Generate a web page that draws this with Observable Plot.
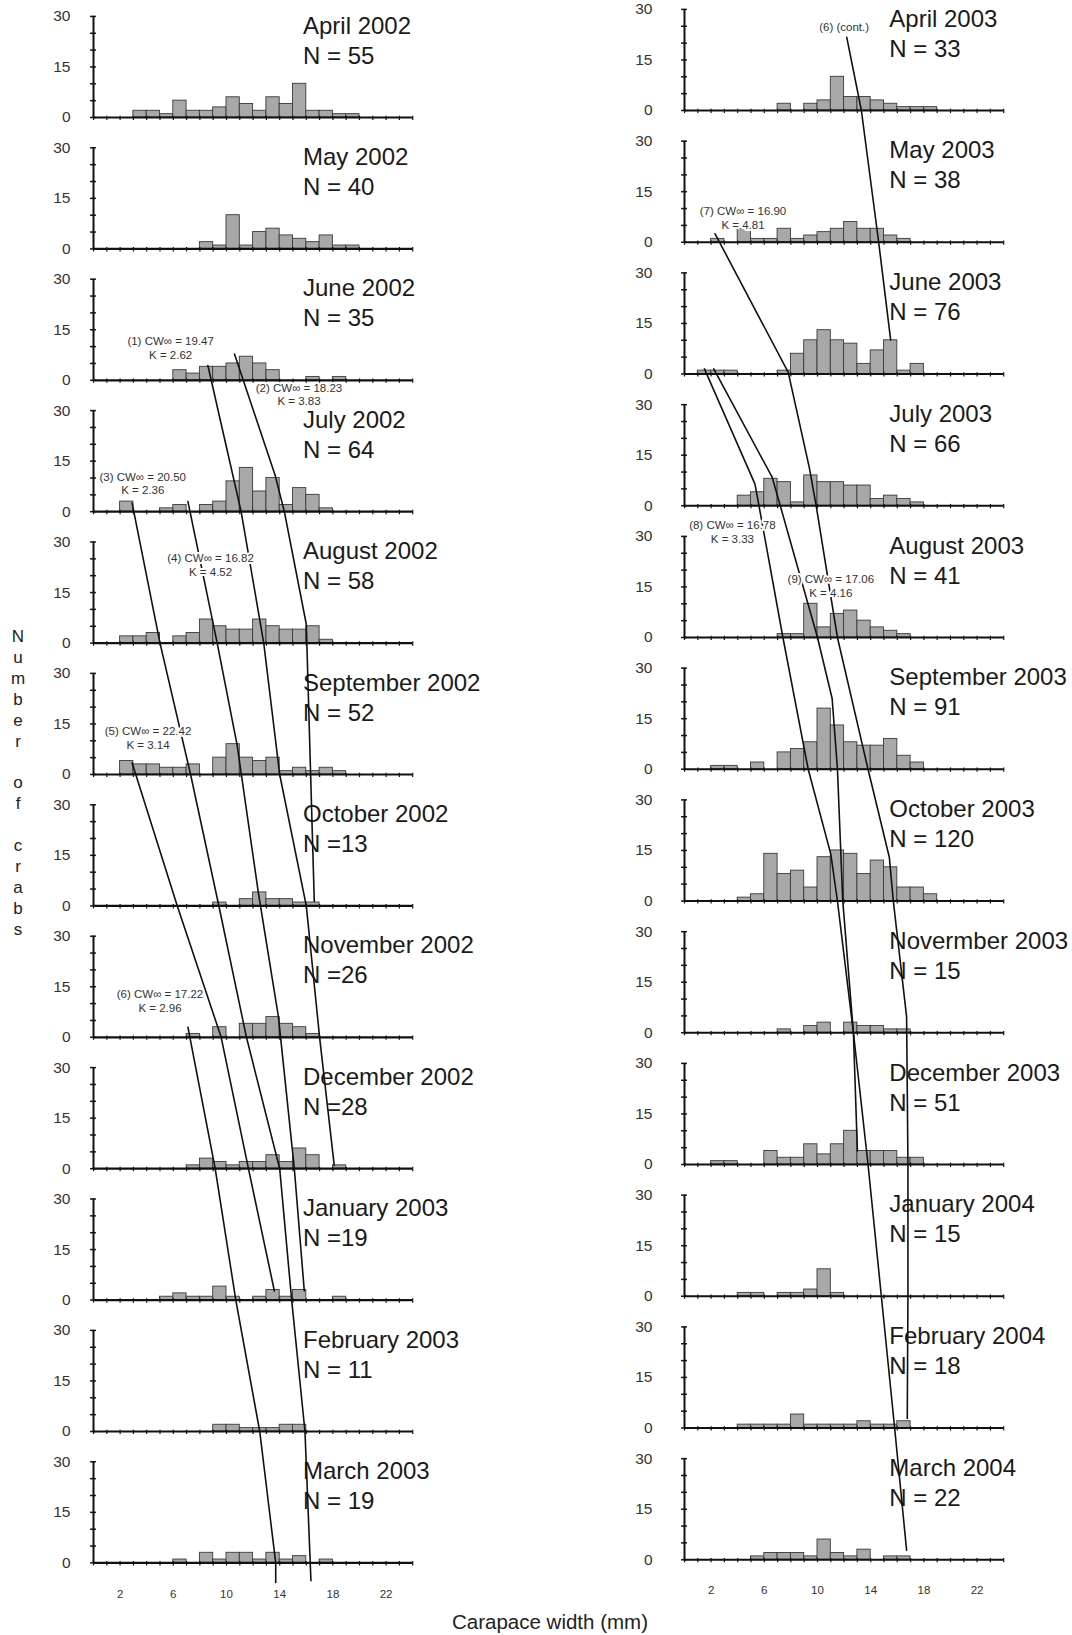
<!DOCTYPE html>
<html><head><meta charset="utf-8">
<script src="https://cdn.jsdelivr.net/npm/d3@7"></script>
<script src="https://cdn.jsdelivr.net/npm/@observablehq/plot@0.6"></script>
<style>
body{margin:0;background:#fff;}
#wrap{position:relative;width:1072px;height:1635px;font-family:"Liberation Sans",Arial,sans-serif;overflow:hidden;}
#wrap svg{position:absolute;left:0;top:0;}
#ylab{position:absolute;left:6px;top:627px;width:24px;text-align:center;font-size:17px;line-height:20.9px;white-space:pre;color:#222;}
#xlab{position:absolute;left:0;width:1100px;top:1611px;text-align:center;font-size:20.5px;line-height:22px;color:#222;}
</style></head><body>
<div id="wrap"><div id="ylab"></div><div id="xlab">Carapace width (mm)</div></div>
<script>
// ---------- tick values ----------
const binEdges = d3.range(0, 25);           // 1-mm bins, 0 … 24 mm
const xTickLabels = [2, 6, 10, 14, 18, 22];
const yTickLabels = [0, 15, 30];
const yMinorTicks = [0, 5, 10, 15, 20, 25, 30];

// ---------- panel titles ----------
const months1 = ["April 2002","May 2002","June 2002","July 2002","August 2002","September 2002",
  "October 2002","November 2002","December 2002","January 2003","February 2003","March 2003"];
const nLabels1 = ["N = 55","N = 40","N = 35","N = 64","N = 58","N = 52","N =13","N =26","N =28","N =19","N = 11","N = 19"];
const months2 = ["April 2003","May 2003","June 2003","July 2003","August 2003","September 2003",
  "October 2003","Novermber 2003","December 2003","January 2004","February 2004","March 2004"];
const nLabels2 = ["N = 33","N = 38","N = 76","N = 66","N = 41","N = 91","N = 120","N = 15","N = 51","N = 15","N = 18","N = 22"];

// ---------- counts per 1-mm carapace-width bin (0–1, 1–2, … 23–24 mm) ----------
const apr2002 = [0,0,0,2,2,1,5,2,2,3,6,4,2,6,4,10,2,2,1,1,0,0,0,0];
const may2002 = [0,0,0,0,0,0,0,0,2,1,10,1,5,6,4,3,2,4,1,1,0,0,0,0];
const jun2002 = [0,0,0,0,0,0,3,2,4,4,5,7,5,3,0,0,1,0,1,0,0,0,0,0];
const jul2002 = [0,0,3,0,0,1,2,0,2,3,9,13,6,10,2,7,5,1,0,0,0,0,0,0];
const aug2002 = [0,0,2,2,3,0,2,3,7,5,4,4,7,5,4,4,5,1,0,0,0,0,0,0];
const sep2002 = [0,0,4,3,3,2,2,3,0,5,9,5,4,5,1,2,1,2,1,0,0,0,0,0];
const oct2002 = [0,0,0,0,0,0,0,0,0,1,0,2,4,2,2,1,1,0,0,0,0,0,0,0];
const nov2002 = [0,0,0,0,0,0,0,1,0,3,0,4,4,6,4,3,1,0,0,0,0,0,0,0];
const dec2002 = [0,0,0,0,0,0,0,1,3,2,1,2,2,4,2,6,4,0,1,0,0,0,0,0];
const jan2003 = [0,0,0,0,0,1,2,1,1,4,1,0,1,3,1,3,0,0,1,0,0,0,0,0];
const feb2003 = [0,0,0,0,0,0,0,0,0,2,2,1,1,1,2,2,0,0,0,0,0,0,0,0];
const mar2003 = [0,0,0,0,0,0,1,0,3,1,3,3,1,3,1,2,0,1,0,0,0,0,0,0];
const apr2003 = [0,0,0,0,0,0,0,2,0,2,3,10,4,4,3,2,1,1,1,0,0,0,0,0];
const may2003 = [0,0,1,0,4,1,1,4,1,2,3,4,6,4,4,2,1,0,0,0,0,0,0,0];
const jun2003 = [0,1,1,1,0,0,0,1,6,10,13,10,9,3,7,10,1,3,0,0,0,0,0,0];
const jul2003 = [0,0,0,0,3,4,8,7,1,9,7,7,6,6,2,3,2,1,0,0,0,0,0,0];
const aug2003 = [0,0,0,0,0,0,0,1,1,10,3,7,8,5,3,2,1,0,0,0,0,0,0,0];
const sep2003 = [0,0,1,1,0,2,0,5,6,8,18,13,8,7,7,9,4,2,0,0,0,0,0,0];
const oct2003 = [0,0,0,0,1,2,14,8,9,4,13,15,14,8,12,10,4,4,2,0,0,0,0,0];
const nov2003 = [0,0,0,0,0,0,0,1,0,2,3,0,3,2,2,1,1,0,0,0,0,0,0,0];
const dec2003 = [0,0,1,1,0,0,4,2,2,6,3,6,10,4,4,4,2,2,0,0,0,0,0,0];
const jan2004 = [0,0,0,0,1,1,0,1,1,2,8,1,0,0,0,0,0,0,0,0,0,0,0,0];
const feb2004 = [0,0,0,0,1,1,1,1,4,1,1,1,1,2,1,1,2,0,0,0,0,0,0,0];
const mar2004 = [0,0,0,0,0,1,2,2,2,1,6,2,1,3,0,1,1,0,0,0,0,0,0,0];

// ---------- cohort growth paths: [month, carapace width (mm), count level] ----------
const cohort1 = [["June 2002",8.6,4.4],["July 2002",11.1,0],["August 2002",12.8,0],["September 2002",14.0,0],
  ["October 2002",16.0,0],["November 2002",17.0,0],["December 2002",18.1,1]];
const cohort2 = [["June 2002",10.6,7.8],["July 2002",13.65,10.9],["July 2002",14.35,0],["August 2002",16.0,5.6],["October 2002",16.6,1.3]];
const cohort3 = [["July 2002",2.9,2.6],["August 2002",5.0,0],["September 2002",7.3,0],["October 2002",9.4,0.5],
  ["November 2002",11.5,0],["December 2002",14.0,0],["January 2003",14.9,0],["February 2003",15.9,0],["March 2003",16.35,-5.3]];
const cohort4 = [["July 2002",7.1,3],["August 2002",9.3,0],["September 2002",10.8,8.7],["October 2002",12.4,3.8],
  ["November 2002",13.9,6.2],["December 2002",15.1,0],["January 2003",15.85,2.7]];
const cohort5 = [["September 2002",2.9,3.5],["October 2002",6.3,0],["November 2002",9.6,0],["December 2002",11.65,0],["January 2003",13.6,2.7]];
const cohort6 = [["November 2002",7.1,3],["December 2002",9.15,0],["January 2003",10.7,0],["February 2003",12.5,0],
  ["March 2003",13.7,0],["March 2003",13.7,-5.8]];
const cohort6b = [["April 2003",12.2,21.7],["April 2003",13.3,0],["May 2003",14.6,0],["June 2003",15.5,10.1]];
const cohort7 = [["May 2003",2.3,2.5],["June 2003",7.8,0.5],["July 2003",9.4,11],["July 2003",9.9,0],["August 2003",11.5,0],
  ["September 2003",13.8,0],["October 2003",15.4,13],["October 2003",15.7,0],["Novermber 2003",16.7,4.7],
  ["December 2003",16.8,0],["January 2004",16.8,0],["February 2004",16.75,2.8]];
const cohort8 = [["June 2003",1.5,1.5],["July 2003",5.3,6.4],["July 2003",5.6,0],["August 2003",7.4,0],["September 2003",9.3,0],
  ["October 2003",11.0,13.9],["October 2003",11.5,0],["Novermber 2003",12.7,0],["December 2003",13.0,4]];
const cohort9 = [["June 2003",2.2,1.5],["July 2003",6.6,8.4],["August 2003",10.0,0],["September 2003",11.1,21],
  ["September 2003",11.5,0],["October 2003",11.9,0],["Novermber 2003",12.7,0],["December 2003",13.8,0],
  ["January 2004",14.8,0],["February 2004",15.8,0],["March 2004",16.7,2.8]];

// ---------- cohort annotations (von Bertalanffy parameters) ----------
const notes1 = [
  {text:"(1) CW∞ = 19.47\nK = 2.62", month:"June 2002", cw:5.8, level:9.6},
  {text:"(2) CW∞ = 18.23\nK = 3.83", month:"June 2002", cw:15.45, level:-4.1},
  {text:"(3) CW∞ = 20.50\nK = 2.36", month:"July 2002", cw:3.7, level:8.5},
  {text:"(4) CW∞ = 16.82\nK = 4.52", month:"August 2002", cw:8.8, level:23.2},
  {text:"(5) CW∞ = 22.42\nK = 3.14", month:"September 2002", cw:4.1, level:11},
  {text:"(6) CW∞ = 17.22\nK = 2.96", month:"November 2002", cw:5.0, level:11}
];
const notes2 = [
  {text:"(6) (cont.)", month:"April 2003", cw:12.0, level:24.9},
  {text:"(7) CW∞ = 16.90\nK = 4.81", month:"May 2003", cw:4.4, level:7.4},
  {text:"(8) CW∞ = 16.78\nK = 3.33", month:"July 2003", cw:3.6, level:-7.6},
  {text:"(9) CW∞ = 17.06\nK = 4.16", month:"August 2003", cw:11.0, level:15.5}
];

const counts1 = [apr2002,may2002,jun2002,jul2002,aug2002,sep2002,oct2002,nov2002,dec2002,jan2003,feb2003,mar2003];
const counts2 = [apr2003,may2003,jun2003,jul2003,aug2003,sep2003,oct2003,nov2003,dec2003,jan2004,feb2004,mar2004];

function column({months, nLabels, counts, cohorts, notes, x0, base0, pitch, labelDx, titleX}) {
  const pxPerMm = 13.3, pxPerCount = 3.37;
  const P = pitch / pxPerCount;                 // panel pitch in count units
  const rowOf = new Map(months.map((m, i) => [m, i]));
  const base = m => -rowOf.get(m) * P;
  const panels = months.map((m, i) => ({month: m, n: nLabels[i], y0: -i * P}));
  const bars = months.flatMap((m, i) => counts[i].map((c, k) => ({y0: -i * P, bin: k, count: c}))).filter(d => d.count > 0);
  const xt = panels.flatMap(p => binEdges.map(e => ({y0: p.y0, x: e})));
  const yt = panels.flatMap(p => yMinorTicks.map(v => ({y: p.y0 + v})));
  const yl = panels.flatMap(p => yTickLabels.map(v => ({y: p.y0 + v, t: String(v)})));
  const lines = cohorts.flatMap((pts, id) => pts.map(([m, cw, lv]) => ({id, x: cw, y: base(m) + lv})));
  const last = -(months.length - 1) * P;
  return Plot.plot({
    width: 1072, height: 1635, margin: 0,
    style: {background: "transparent", fontFamily: "'Liberation Sans', Arial, sans-serif", overflow: "visible"},
    x: {domain: [0, 24], range: [x0, x0 + 24 * pxPerMm], axis: null},
    y: {domain: [0, last], range: [base0, base0 + (months.length - 1) * pitch], axis: null},
    marks: [
      Plot.rect(bars, {x1: d => d.bin, x2: d => d.bin + 1, y1: d => d.y0, y2: d => d.y0 + d.count,
        fill: "#a8a8a8", stroke: "#3a3a3a", strokeWidth: 0.9}),
      Plot.ruleX(panels, {x: 0, y1: d => d.y0, y2: d => d.y0 + 30, stroke: "#111", strokeWidth: 2}),
      Plot.ruleY(yt, {y: "y", x1: -0.22, x2: 0.22, stroke: "#111", strokeWidth: 1.5}),
      Plot.ruleY(panels, {y: "y0", x1: 0, x2: 24, stroke: "#111", strokeWidth: 2.2}),
      Plot.ruleX(xt, {x: "x", y1: d => d.y0 - 0.9, y2: d => d.y0 + 0.4, stroke: "#111", strokeWidth: 1.2}),
      Plot.text(yl, {x: 0, y: "y", text: "t", textAnchor: "end", dx: labelDx, fontSize: 15.5, fill: "#333"}),
      Plot.text(xTickLabels, {x: d => d, y: last, dy: 31, text: d => String(d), fontSize: 11.5, fill: "#333"}),
      Plot.text(panels, {x: titleX, y: d => d.y0 + 23.3, text: d => d.month + "\n" + d.n, textAnchor: "start",
        fontSize: 24, lineHeight: 1.25, fill: "#1a1a1a"}),
      Plot.line(lines, {x: "x", y: "y", z: "id", stroke: "#111", strokeWidth: 1.6}),
      Plot.text(notes, {x: "cw", y: d => base(d.month) + d.level, text: "text", fontSize: 11.5, lineHeight: 1.2,
        fill: "#333", stroke: "white", strokeWidth: 4})
    ]
  });
}

const wrap = document.getElementById("wrap");
wrap.appendChild(column({months: months1, nLabels: nLabels1, counts: counts1,
  cohorts: [cohort1, cohort2, cohort3, cohort4, cohort5, cohort6], notes: notes1,
  x0: 93, base0: 117, pitch: 131.4, labelDx: -23, titleX: 15.75}));
wrap.appendChild(column({months: months2, nLabels: nLabels2, counts: counts2,
  cohorts: [cohort6b, cohort7, cohort8, cohort9], notes: notes2,
  x0: 684, base0: 110, pitch: 131.75, labelDx: -32, titleX: 15.4}));

document.getElementById("ylab").textContent = "N\nu\nm\nb\ne\nr\n\no\nf\n\nc\nr\na\nb\ns";
</script>
</body></html>
